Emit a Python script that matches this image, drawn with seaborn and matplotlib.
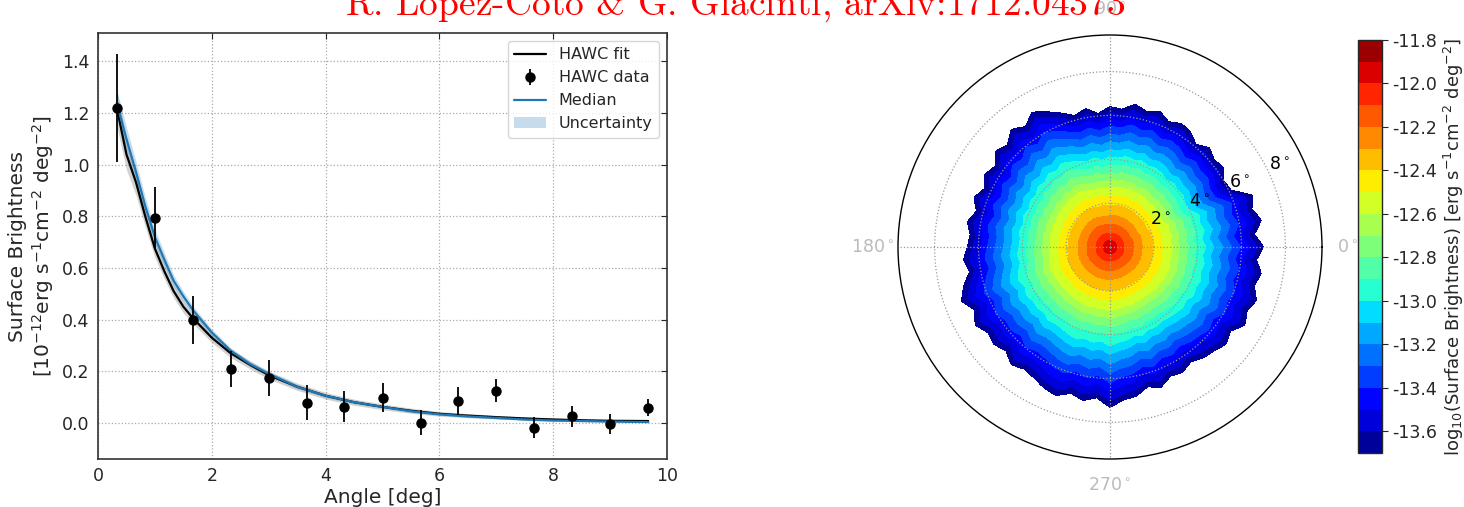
import numpy as np
import matplotlib
matplotlib.use("Agg")
import matplotlib.pyplot as plt
import seaborn as sns

# ---------------- Left panel data ----------------
angle_bins = [0.33, 1.0, 1.67, 2.33, 3.0, 3.67, 4.33, 5.0, 5.67, 6.33, 7.0, 7.67, 8.33, 9.0, 9.67]
hawc_sb = [1.22, 0.795, 0.40, 0.21, 0.175, 0.078, 0.063, 0.097, 0.0, 0.085, 0.125, -0.018, 0.025, -0.005, 0.058]
hawc_err = [0.21, 0.12, 0.093, 0.07, 0.07, 0.067, 0.06, 0.056, 0.048, 0.053, 0.045, 0.042, 0.04, 0.04, 0.033]

curve_x = [0.33, 0.5, 0.67, 0.83, 1.0, 1.17, 1.33, 1.5, 1.67, 2.0, 2.33, 2.67, 3.0, 3.5, 4.0,
           4.5, 5.0, 5.5, 6.0, 6.5, 7.0, 7.5, 8.0, 8.5, 9.0, 9.67]
fit_y = [1.22, 1.04, 0.93, 0.80, 0.675, 0.585, 0.51, 0.45, 0.405, 0.33, 0.27, 0.225, 0.185, 0.14,
         0.105, 0.08, 0.062, 0.047, 0.035, 0.028, 0.022, 0.017, 0.013, 0.01, 0.008, 0.007]
fit_band = [0.07, 0.06, 0.05, 0.04, 0.035, 0.03, 0.027, 0.024, 0.021, 0.019, 0.017, 0.016, 0.015,
            0.014, 0.013, 0.012, 0.011, 0.01, 0.009, 0.008, 0.007, 0.006, 0.005, 0.005, 0.004, 0.004]
median_y = [1.24, 1.10, 0.97, 0.84, 0.72, 0.63, 0.55, 0.49, 0.436, 0.35, 0.28, 0.228, 0.19, 0.14,
            0.105, 0.08, 0.062, 0.045, 0.033, 0.025, 0.019, 0.013, 0.009, 0.007, 0.005, 0.003]
median_band = [0.05, 0.045, 0.04, 0.035, 0.03, 0.026, 0.022, 0.019, 0.016, 0.013, 0.011, 0.01, 0.009,
               0.008, 0.007, 0.006, 0.005, 0.005, 0.004, 0.004, 0.003, 0.003, 0.003, 0.002, 0.002, 0.002]

# ---------------- Right panel data ----------------
# radial profile of log10 surface brightness (deg -> log10 value)
profile_r = [0.0, 0.2, 0.4, 0.7, 1.05, 1.45, 1.95, 2.4, 2.85, 3.2, 3.6, 4.0, 4.45, 4.85, 5.3,
             5.75, 6.2, 6.6, 7.0, 7.3, 8.0]
profile_v = [-11.88, -11.97, -12.03, -12.12, -12.2, -12.3, -12.4, -12.5, -12.6, -12.7, -12.8,
             -12.9, -13.0, -13.1, -13.2, -13.3, -13.4, -13.5, -13.6, -13.7, -13.9]
# outer edge radius (deg) of emission region vs position angle (every 5 deg from east, CCW)
edge_angle = list(range(0, 360, 5))
edge_radius = [7.0, 6.6, 7.0, 6.7, 6.9, 6.1, 6.0, 6.3, 6.2, 6.4, 6.1, 6.4, 6.5, 6.3, 6.6, 6.4,
               6.6, 6.3, 6.4, 6.1, 6.4, 6.2, 6.5, 6.8, 7.1, 6.7, 7.0, 6.6, 6.8, 6.4, 6.6, 6.3,
               6.6, 6.3, 6.6, 6.4, 6.5, 6.7, 6.5, 6.9, 7.2, 6.8, 7.1, 6.8, 6.9, 6.7, 7.0, 6.8,
               6.9, 7.1, 7.2, 6.9, 7.1, 6.9, 7.3, 7.0, 6.9, 6.6, 6.8, 6.5, 6.6, 6.4, 6.6, 6.7,
               6.9, 6.7, 7.1, 6.9, 7.1, 6.8, 7.0, 6.7]
cbar_ticks = [-13.6, -13.4, -13.2, -13.0, -12.8, -12.6, -12.4, -12.2, -12.0, -11.8]
r_ticks = [2, 4, 6, 8]
theta_ticks = [0, 90, 180, 270]

# ---------------- Style ----------------
sns.set_style("white")
plt.rcParams["font.family"] = ["DejaVu Sans"]
plt.rcParams["axes.unicode_minus"] = False

fig = plt.figure(figsize=(14.64, 5.07), dpi=100)

# Title (clipped at top as in reference)
fig.text(0.502, 0.969, r"R. L$\acute{\mathrm{o}}$pez-Coto & G. Giacinti, arXiv:1712.04373",
         color="red", fontsize=27, family=["cmr10", "DejaVu Serif"], math_fontfamily="cm",
         ha="center", va="baseline")

# ---------------- Left panel ----------------
ax = fig.add_axes([98 / 1464, 1 - 459 / 507, 569 / 1464, 426 / 507])
cx = np.array(curve_x)
fy = np.array(fit_y); fb = np.array(fit_band)
my = np.array(median_y); mb = np.array(median_band)

ax.fill_between(cx, fy - fb, fy + fb, color="gray", alpha=0.35, lw=0)
ax.fill_between(cx, my - mb, my + mb, color="#1f77b4", alpha=0.25, lw=0, label="Uncertainty")
sns.lineplot(x=curve_x, y=fit_y, ax=ax, color="k", lw=1.6, label="HAWC fit", sort=False)
sns.lineplot(x=curve_x, y=median_y, ax=ax, color="#1f77b4", lw=1.6, label="Median", sort=False)
ax.errorbar(angle_bins, hawc_sb, yerr=hawc_err, fmt="o", color="k", ms=6.5, elinewidth=1.3,
            capsize=0, label="HAWC data", zorder=5)

ax.set_xlim(0, 10)
ax.set_ylim(-0.14, 1.51)
ax.set_xticks(np.arange(0, 11, 2))
ax.set_yticks(np.arange(0, 1.41, 0.2))
ax.set_yticklabels([f"{v:.1f}" for v in np.arange(0, 1.41, 0.2)])
ax.tick_params(direction="in", top=True, right=True, labelsize=12.5, length=4, width=0.8, pad=6)
ax.grid(True, linestyle=":", color="#aaaaaa", lw=0.9)
for s in ax.spines.values():
    s.set_color("#333333"); s.set_linewidth(1.2)
ax.set_xlabel("Angle [deg]", fontsize=14.5, labelpad=2)
ax.set_ylabel("Surface Brightness\n" + r"[$10^{-12}$erg s$^{-1}$cm$^{-2}$ deg$^{-2}$]", fontsize=14.5)

handles, labels = ax.get_legend_handles_labels()
hmap = dict(zip(labels, handles))
order = ["HAWC fit", "HAWC data", "Median", "Uncertainty"]
leg = ax.legend([hmap[o] for o in order], order, loc="upper right", fontsize=11.5, frameon=True,
                fancybox=True, borderaxespad=0.5, handlelength=2.0)
leg.get_frame().set_edgecolor("#cccccc")

# ---------------- Right panel (polar) ----------------
ax2 = fig.add_axes([(1110 - 212) / 1464, 1 - (247 + 212) / 507, 424 / 1464, 424 / 507],
                   projection="polar")
theta_deg = np.linspace(0, 360, 1441)
rr = np.linspace(0, 9.67, 500)
TH, RR = np.meshgrid(np.deg2rad(theta_deg), rr)
edge = np.interp(theta_deg, edge_angle, edge_radius, period=360)
scale = edge / 7.3
mean_scale = np.mean(scale)
w_outer = np.clip((RR - 1.5) / 4.5, 0, 1)
w_shape = 0.35 + 0.65 * w_outer
r_eff = RR / (1 + w_shape * (scale[None, :] - mean_scale) + w_outer * (mean_scale - 1))
Z = np.interp(r_eff, profile_r, profile_v)

levels = np.round(np.arange(-13.7, -11.75, 0.1), 2)
cs = ax2.contourf(TH, RR, Z, levels=levels, cmap="jet")
ax2.set_ylim(0, 9.67)
ax2.set_thetagrids(theta_ticks, labels=[f"{t}$^\\circ$" for t in theta_ticks])
ax2.set_rgrids(r_ticks, labels=[f"{t}$^\\circ$" for t in r_ticks], angle=25)
ax2.tick_params(axis="x", labelcolor="#bbbbbb", labelsize=12.5, pad=8)
ax2.tick_params(axis="y", labelcolor="black", labelsize=12.5)
ax2.grid(True, linestyle=":", color="#999999", lw=0.9)
ax2.spines["polar"].set_color("black")
ax2.spines["polar"].set_linewidth(1.0)
ax2.set_axisbelow(False)

# Colorbar
cax = fig.add_axes([1358 / 1464, 1 - 453 / 507, 24 / 1464, 413 / 507])
cb = fig.colorbar(cs, cax=cax, ticks=cbar_ticks)
cb.ax.set_yticklabels([f"{t:.1f}" for t in cbar_ticks])
cb.ax.tick_params(labelsize=12.5, length=4)
cb.set_label(r"log$_{10}$(Surface Brightness) [erg s$^{-1}$cm$^{-2}$ deg$^{-2}$]", fontsize=13,
             labelpad=3)
cb.outline.set_linewidth(1.0)

fig.savefig("out.png", dpi=100)
